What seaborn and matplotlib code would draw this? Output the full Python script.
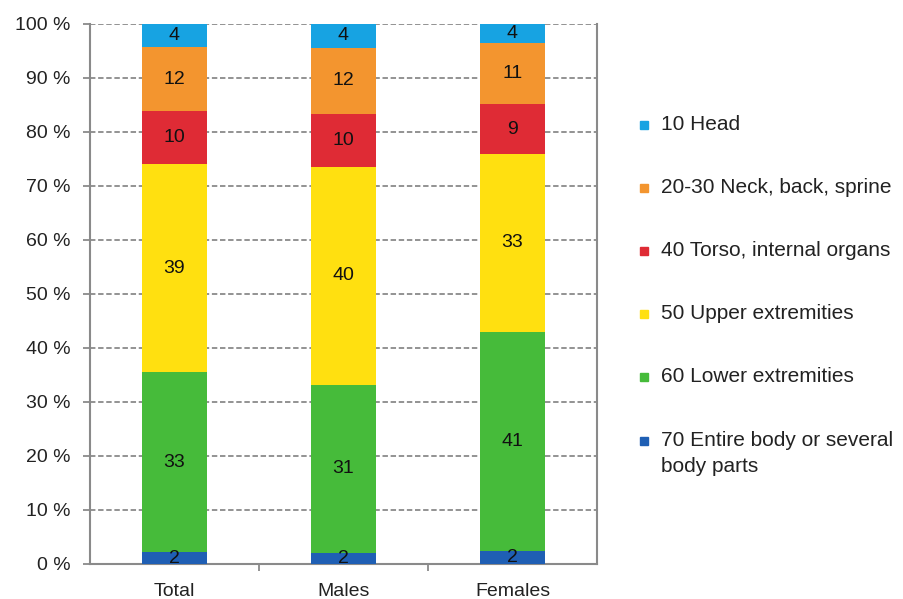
import matplotlib
matplotlib.use('Agg')
import matplotlib.pyplot as plt
from matplotlib.patches import Rectangle
import numpy as np
import pandas as pd
import seaborn as sns

# data (shares in %, bottom layer first)
groups = ['Total', 'Males', 'Females']
parts = ['70 Entire body or several\nbody parts', '60 Lower extremities',
         '50 Upper extremities', '40 Torso, internal organs',
         '20-30 Neck, back, sprine', '10 Head']
entire_body = [2.2, 2.0, 2.4]
lower_ext = [33.3, 31.2, 40.6]
upper_ext = [38.6, 40.4, 33.0]
torso = [9.7, 9.8, 9.1]
neck_back = [12.0, 12.2, 11.3]
head = [4.2, 4.4, 3.6]
colors = ['#1f5fb4', '#46bb3a', '#ffe010', '#df2b35', '#f3952f', '#17a3e2']
y_ticks = list(range(0, 101, 10))

sns.set_theme(style='white')
plt.rcParams['font.family'] = ['Liberation Sans', 'DejaVu Sans']

layers = [entire_body, lower_ext, upper_ext, torso, neck_back, head]
vals = np.array(layers)
cum = vals.cumsum(axis=0)

fig = plt.figure(figsize=(9.04, 5.99), dpi=100)
ax = fig.add_axes([90 / 904, 1 - 564 / 599, (597 - 90) / 904, (564 - 24) / 599])

# stacked bars: draw cumulative totals from the top layer down
for i in range(len(layers) - 1, -1, -1):
    df = pd.DataFrame({'group': groups, 'value': cum[i]})
    sns.barplot(data=df, x='group', y='value', color=colors[i], width=0.39,
                saturation=1, ax=ax, zorder=3, linewidth=0)

for i in range(len(layers)):
    for j in range(len(groups)):
        mid = cum[i][j] - vals[i][j] / 2
        ax.text(j, mid, '%d' % round(vals[i][j]), ha='center', va='center',
                fontsize=14, color='#111111', zorder=5)

ax.set_ylim(0, 100)
ax.set_xlim(-0.5, 2.5)
ax.set_yticks(y_ticks)
ax.set_yticklabels(['%d %%' % t for t in y_ticks], fontsize=14, color='#222222')
ax.set_xlabel('')
ax.set_ylabel('')
ax.set_xticks([0, 1, 2], groups)
ax.tick_params(axis='x', length=0, pad=14, labelsize=14, labelcolor='#222222')
ax.tick_params(axis='y', length=5, width=1.2, color='#808080', direction='out', left=True, pad=9)
ax.set_xticks([0.5, 1.5], minor=True)
ax.tick_params(axis='x', which='minor', length=5, width=1.2, color='#808080', direction='out', bottom=True)
ax.yaxis.grid(True, linestyle=(0, (3, 1.5)), color='#8a8a8a', linewidth=1.3, zorder=0)
ax.set_axisbelow(True)
for side in ['left', 'bottom', 'right']:
    ax.spines[side].set_color('#8a8a8a')
    ax.spines[side].set_linewidth(1.5)
    ax.spines[side].set_visible(True)
ax.spines['top'].set_visible(False)

# legend on the right, head first
leg_y = [125, 188, 251, 314, 377, 441]
for k, i in enumerate(range(len(layers) - 1, -1, -1)):
    yy = 1 - leg_y[k] / 599
    fig.patches.append(Rectangle((640 / 904, yy - 4 / 599), 8 / 904, 8 / 599,
                                 transform=fig.transFigure, color=colors[i], figure=fig))
    fig.text(661 / 904, yy + 10 / 599, parts[i], ha='left', va='top', fontsize=15,
             color='#222222', linespacing=1.5)

fig.savefig('out.png', dpi=100)
